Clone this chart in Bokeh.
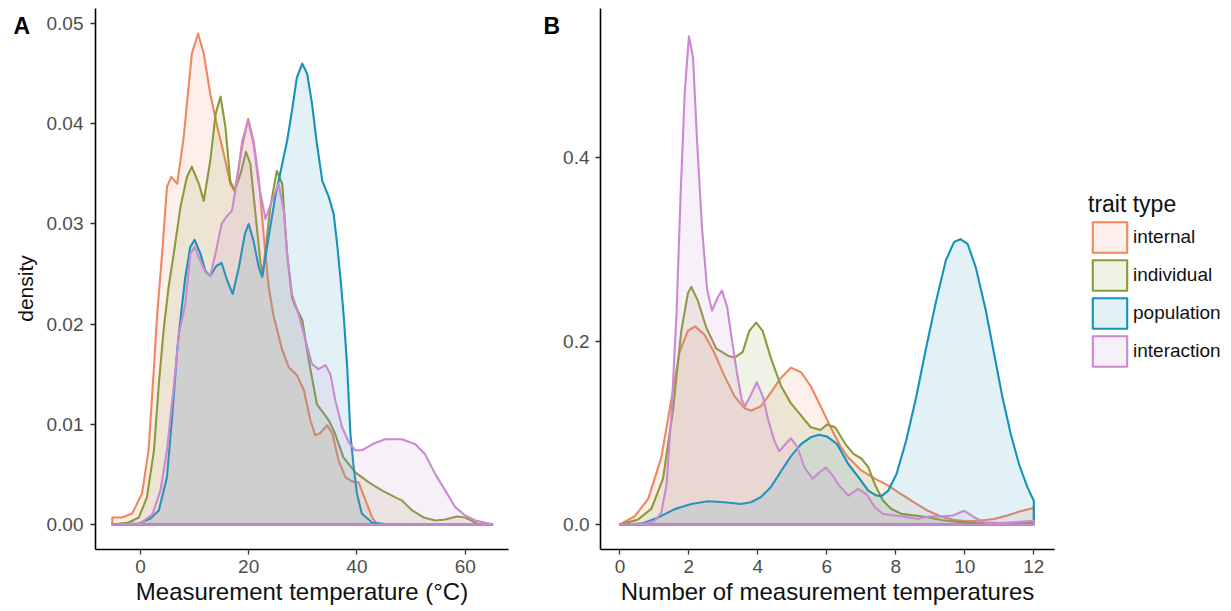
import math
from bokeh.plotting import figure
from bokeh.layouts import row
from bokeh.models import (Range1d, FixedTicker, PrintfTickFormatter, Legend, LegendItem)
from bokeh.core.properties import value
from bokeh.embed import file_html
from bokeh.resources import INLINE

FONT = "Liberation Sans"

series_names = ["internal", "individual", "population", "interaction"]
series_colors = ["#F0875F", "#8A9A3C", "#1592BC", "#C98AD0"]

# ---------------- Panel A: measurement temperature (°C) ----------------
a_internal_x = [-5.2, -3.4, -1.5, 0.3, 1.5, 2.5, 3.1, 4.0, 4.9, 5.7, 6.8, 8.0, 9.5, 10.65, 11.7, 12.9, 14.2,
                15.4, 16.6, 17.4, 18.8, 19.9, 20.9, 21.9, 22.8, 23.7, 24.6, 26.2, 27.4, 28.9, 30.2, 31.4, 32.3,
                33.2, 34.5, 35.5, 36.6, 37.9, 39.1, 40.3, 41.6, 42.8, 43.6, 45.0, 65.0]
a_internal_y = [0.0007, 0.0007, 0.0011, 0.0031, 0.0074, 0.0157, 0.021, 0.027, 0.0337, 0.0347, 0.0340, 0.0387,
                0.047, 0.049, 0.047, 0.043, 0.0397, 0.037, 0.034, 0.0333, 0.0377, 0.0405, 0.0383, 0.0343,
                0.0287, 0.0237, 0.0208, 0.0174, 0.0157, 0.0149, 0.0134, 0.0104, 0.0089, 0.0091, 0.0099,
                0.009, 0.0064, 0.0047, 0.0043, 0.0042, 0.0024, 0.0007, 0.0001, 0.0, 0.0]

a_individual_x = [-5.2, -2.2, -0.3, 1.2, 2.5, 3.4, 4.3, 5.2, 6.15, 7.4, 8.6, 9.5, 10.8, 11.7, 12.9, 13.9, 14.8,
                  15.7, 16.6, 17.4, 18.5, 19.5, 20.3, 21.2, 22.2, 22.6, 24.0, 25.2, 26.2, 27.1, 28.0, 28.6,
                  29.9, 31.1, 32.6, 34.8, 36.0, 37.5, 39.7, 42.2, 44.6, 47.1, 48.3, 50.2, 52.3, 54.5, 56.3,
                  58.5, 60.0, 62.2, 65.0]
a_individual_y = [0.0, 0.0002, 0.0007, 0.0027, 0.0074, 0.014, 0.0195, 0.0237, 0.027, 0.0317, 0.0347, 0.0357,
                  0.034, 0.0323, 0.0363, 0.041, 0.0427, 0.0397, 0.0343, 0.0333, 0.035, 0.0372, 0.036, 0.0313,
                  0.026, 0.025, 0.0317, 0.0353, 0.034, 0.027, 0.0227, 0.0218, 0.0204, 0.0164, 0.012, 0.0104,
                  0.009, 0.0067, 0.0052, 0.0042, 0.0034, 0.0027, 0.0024, 0.0014, 0.0007, 0.0004, 0.0005,
                  0.0008, 0.0007, 0.0001, 0.0]

a_population_x = [-5.2, -0.3, 1.85, 3.4, 4.9, 5.85, 6.8, 7.5, 8.3, 9.2, 10.0, 11.1, 12.0, 12.9, 14.0, 15.0, 16.0,
                  17.05, 18.2, 19.3, 20.0, 20.9, 21.85, 22.5, 23.7, 24.9, 26.2, 27.1, 28.0, 28.9, 29.9, 30.8,
                  31.7, 32.6, 33.6, 34.8, 35.7, 36.4, 37.1, 37.6, 38.2, 38.8, 39.4, 40.0, 40.9, 42.8, 46.0, 65.0]
a_population_y = [0.0, 0.0001, 0.0006, 0.0014, 0.0047, 0.0107, 0.0174, 0.021, 0.0247, 0.0277, 0.0284, 0.027,
                  0.0253, 0.0248, 0.0258, 0.0261, 0.0244, 0.023, 0.0257, 0.029, 0.030, 0.0283, 0.0257, 0.0247,
                  0.0287, 0.0327, 0.036, 0.0383, 0.0413, 0.0446, 0.046, 0.045, 0.042, 0.038, 0.0343, 0.0327,
                  0.031, 0.0277, 0.0237, 0.0205, 0.0157, 0.009, 0.0057, 0.0031, 0.0011, 0.0002, 0.0, 0.0]

a_interaction_x = [-5.2, 0.0, 2.2, 3.7, 4.9, 6.15, 7.1, 8.3, 9.2, 10.0, 11.1, 12.0, 12.9, 13.85, 15.0, 16.0,
                   16.9, 17.85, 18.8, 19.9, 20.9, 21.85, 23.1, 24.3, 25.5, 26.5, 27.1, 28.0, 29.2, 30.2, 31.7,
                   32.9, 34.2, 35.1, 36.0, 37.25, 38.5, 39.7, 40.9, 42.8, 45.2, 48.3, 50.8, 52.6, 54.5, 56.3,
                   58.2, 60.0, 61.9, 64.4, 65.0]
a_interaction_y = [0.0, 0.0001, 0.001, 0.0034, 0.0074, 0.0137, 0.019, 0.022, 0.027, 0.0277, 0.0263, 0.0252,
                   0.0248, 0.027, 0.030, 0.0308, 0.0313, 0.0343, 0.0383, 0.0403, 0.038, 0.034, 0.0305, 0.0323,
                   0.034, 0.0313, 0.027, 0.023, 0.021, 0.019, 0.016, 0.0155, 0.0159, 0.015, 0.0124, 0.0097,
                   0.0082, 0.0074, 0.0074, 0.008, 0.0085, 0.0085, 0.008, 0.007, 0.005, 0.0034, 0.0017,
                   0.0009, 0.0004, 0.0001, 0.0]

# ---------------- Panel B: number of measurement temperatures ----------------
b_internal_x = [0.0, 0.43, 0.82, 1.2, 1.49, 1.73, 1.97, 2.18, 2.45, 2.74, 3.03, 3.32, 3.61, 3.8, 4.09, 4.38, 4.67,
                4.96, 5.25, 5.53, 5.82, 6.11, 6.4, 6.62, 7.0, 7.39, 7.78, 8.16, 8.54, 8.93, 9.31, 9.69, 10.08,
                10.46, 10.85, 11.23, 11.61, 12.0]
b_internal_y = [0.0, 0.009, 0.028, 0.073, 0.136, 0.188, 0.211, 0.216, 0.207, 0.187, 0.162, 0.140, 0.127, 0.124,
                0.129, 0.144, 0.160, 0.171, 0.166, 0.151, 0.129, 0.106, 0.085, 0.073, 0.059, 0.050, 0.0425,
                0.033, 0.024, 0.015, 0.0087, 0.005, 0.0036, 0.0044, 0.006, 0.0098, 0.0145, 0.018]

b_individual_x = [0.0, 0.53, 0.91, 1.25, 1.54, 1.78, 1.97, 2.07, 2.26, 2.5, 2.79, 3.13, 3.32, 3.56, 3.75, 3.95,
                  4.14, 4.38, 4.67, 4.96, 5.25, 5.53, 5.82, 6.0, 6.24, 6.53, 6.77, 7.0, 7.2, 7.39, 7.63, 7.87,
                  8.16, 8.54, 8.93, 9.31, 9.69, 10.17, 10.65, 11.2, 12.0]
b_individual_y = [0.0, 0.0056, 0.017, 0.05, 0.125, 0.211, 0.252, 0.259, 0.244, 0.215, 0.192, 0.184, 0.182,
                  0.188, 0.211, 0.220, 0.211, 0.181, 0.151, 0.132, 0.119, 0.106, 0.103, 0.109, 0.106, 0.088,
                  0.077, 0.072, 0.0625, 0.044, 0.026, 0.017, 0.0116, 0.0098, 0.008, 0.005, 0.0033, 0.002,
                  0.0015, 0.0015, 0.002]

b_population_x = [0.0, 0.63, 1.1, 1.59, 2.07, 2.55, 3.03, 3.51, 3.8, 4.09, 4.38, 4.67, 4.96, 5.25, 5.53, 5.77,
                  6.0, 6.29, 6.62, 6.91, 7.2, 7.44, 7.58, 7.78, 8.02, 8.3, 8.59, 8.88, 9.17, 9.45, 9.69, 9.87,
                  10.08, 10.32, 10.61, 10.85, 11.09, 11.33, 11.57, 11.81, 12.0]
b_population_y = [0.0, 0.001, 0.0075, 0.0168, 0.0224, 0.0254, 0.0243, 0.0224, 0.0243, 0.030, 0.041, 0.058,
                  0.0746, 0.0877, 0.0951, 0.0978, 0.096, 0.088, 0.066, 0.052, 0.037, 0.0316, 0.031, 0.037,
                  0.055, 0.0916, 0.139, 0.193, 0.244, 0.288, 0.308, 0.311, 0.306, 0.280, 0.233, 0.186, 0.139,
                  0.099, 0.066, 0.041, 0.026]

b_interaction_x = [0.0, 0.72, 1.01, 1.2, 1.35, 1.49, 1.64, 1.76, 1.88, 2.0, 2.12, 2.24, 2.38, 2.53, 2.67, 2.84,
                   2.96, 3.11, 3.24, 3.39, 3.53, 3.63, 3.78, 3.97, 4.14, 4.3, 4.48, 4.62, 4.81, 4.96, 5.15,
                   5.34, 5.58, 5.82, 5.97, 6.16, 6.35, 6.62, 6.91, 7.15, 7.39, 7.63, 7.97, 8.35, 8.64, 8.93,
                   9.31, 9.65, 9.98, 10.27, 10.56, 10.94, 11.42, 11.8, 12.0]
b_interaction_y = [0.0, 0.001, 0.004, 0.013, 0.043, 0.118, 0.229, 0.36, 0.472, 0.532, 0.509, 0.416, 0.323,
                   0.256, 0.233, 0.248, 0.255, 0.237, 0.203, 0.166, 0.136, 0.129, 0.14, 0.155, 0.14, 0.114,
                   0.091, 0.080, 0.088, 0.094, 0.084, 0.063, 0.050, 0.058, 0.062, 0.054, 0.043, 0.0316, 0.039,
                   0.033, 0.019, 0.0116, 0.0098, 0.008, 0.006, 0.0087, 0.0087, 0.0098, 0.015, 0.008, 0.0025,
                   0.0015, 0.0025, 0.0036, 0.0044]

a_xticks = [0, 20, 40, 60]
a_yticks = [0.0, 0.01, 0.02, 0.03, 0.04, 0.05]
b_xticks = [0, 2, 4, 6, 8, 10, 12]
b_yticks = [0.0, 0.2, 0.4]

a_series = [(a_internal_x, a_internal_y), (a_individual_x, a_individual_y),
            (a_population_x, a_population_y), (a_interaction_x, a_interaction_y)]
b_series = [(b_internal_x, b_internal_y), (b_individual_x, b_individual_y),
            (b_population_x, b_population_y), (b_interaction_x, b_interaction_y)]

H = 611          # figure height (px)
TOP = 8          # frame top border
BOTTOM = 62      # frame bottom border
FRAME_TOP = TOP
FRAME_BOTTOM = H - BOTTOM
FILL_ALPHA = 0.13


def style(p, xticks, yticks, yfmt, xlabel, ystandoff):
    p.outline_line_color = None
    p.xgrid.visible = False
    p.ygrid.visible = False
    p.background_fill_color = "white"
    p.border_fill_color = "white"
    for ax in (p.xaxis[0], p.yaxis[0]):
        ax.axis_line_color = "black"
        ax.axis_line_width = 1.6
        ax.major_tick_line_color = "#333333"
        ax.major_tick_line_width = 1.3
        ax.major_tick_out = 5
        ax.major_tick_in = 0
        ax.minor_tick_line_color = None
        ax.major_label_text_font = FONT
        ax.major_label_text_font_size = "19px"
        ax.major_label_text_color = "#4D4D4D"
        ax.axis_label_text_font = FONT
        ax.axis_label_text_font_size = "24px"
        ax.axis_label_text_font_style = "normal"
        ax.axis_label_text_color = "#111111"
    p.xaxis[0].major_label_standoff = 5
    p.yaxis[0].major_label_standoff = ystandoff
    p.xaxis[0].ticker = FixedTicker(ticks=xticks)
    p.yaxis[0].ticker = FixedTicker(ticks=yticks)
    p.yaxis[0].formatter = PrintfTickFormatter(format=yfmt)
    p.xaxis[0].axis_label = xlabel
    p.xaxis[0].axis_label_standoff = 2


def draw(p, series, visible=True):
    rs = []
    for (xs, ys), c in zip(series, series_colors):
        px = [xs[0]] + list(xs) + [xs[-1]]
        py = [0.0] + list(ys) + [0.0]
        r = p.patch(px, py, fill_color=c, fill_alpha=FILL_ALPHA, line_color=c, line_width=2.1,
                    line_join="round", visible=visible)
        rs.append(r)
    return rs


def strip(width):
    # narrow figure without axes; its frame is aligned with the neighbouring panels,
    # so a y range running from the frame bottom to the frame top gives pixel positions
    s = figure(width=width, height=H, x_range=Range1d(0, width),
               y_range=Range1d(FRAME_BOTTOM, FRAME_TOP),
               x_axis_type=None, y_axis_type=None, output_backend="svg", toolbar_location=None,
               min_border=0, min_border_left=0, min_border_right=0,
               min_border_top=TOP, min_border_bottom=BOTTOM)
    s.outline_line_color = None
    s.xgrid.visible = False
    s.ygrid.visible = False
    return s


# strip with panel letter "A" and the y-axis title
sa = strip(40)
sa.text(x=[13], y=[25], text=["A"], text_font=value(FONT), text_font_size="23px",
        text_font_style="bold", text_color="black", text_baseline="middle", text_align="left")
sa.text(x=[25], y=[288], text=["density"], angle=math.pi / 2, text_font=value(FONT),
        text_font_size="21px", text_color="#111111", text_baseline="middle", text_align="center")

# Panel A
pa = figure(width=478, height=H, x_range=Range1d(-8.3, 68.0), y_range=Range1d(-0.0025, 0.0515),
            output_backend="svg", toolbar_location=None,
            min_border_left=55, min_border_right=10, min_border_top=TOP, min_border_bottom=BOTTOM)
style(pa, a_xticks, a_yticks, "%.2f", "Measurement temperature (°C)", 7)
draw(pa, a_series)

# strip with panel letter "B"
sb = strip(42)
sb.text(x=[25], y=[25], text=["B"], text_font=value(FONT), text_font_size="23px",
        text_font_style="bold", text_color="black", text_baseline="middle", text_align="left")

# Panel B
pb = figure(width=499, height=H, x_range=Range1d(-0.563, 12.6), y_range=Range1d(-0.0272, 0.5624),
            output_backend="svg", toolbar_location=None,
            min_border_left=38, min_border_right=5, min_border_top=TOP, min_border_bottom=BOTTOM)
style(pb, b_xticks, b_yticks, "%.1f", "Number of measurement temperatures", 6)
draw(pb, b_series)

# Legend panel
pc = strip(172)
pc.x_range = Range1d(100, 101)
pc.y_range = Range1d(100, 101)
rc = draw(pc, b_series, visible=False)
legend = Legend(items=[LegendItem(label=n, renderers=[r]) for n, r in zip(series_names, rc)],
                location=(29, 179), title="trait type",
                title_text_font=FONT, title_text_font_size="23px", title_text_color="#111111",
                title_text_font_style="normal", title_standoff=0,
                label_text_font=FONT, label_text_font_size="19px", label_text_color="#111111",
                glyph_width=43, glyph_height=38, spacing=0, label_standoff=2,
                padding=4, border_line_color=None, background_fill_alpha=0.0,
                inactive_fill_alpha=0.0)
pc.add_layout(legend)

layout = row(sa, pa, sb, pb, pc, spacing=0)
open("out.html", "w").write(file_html(layout, INLINE))
